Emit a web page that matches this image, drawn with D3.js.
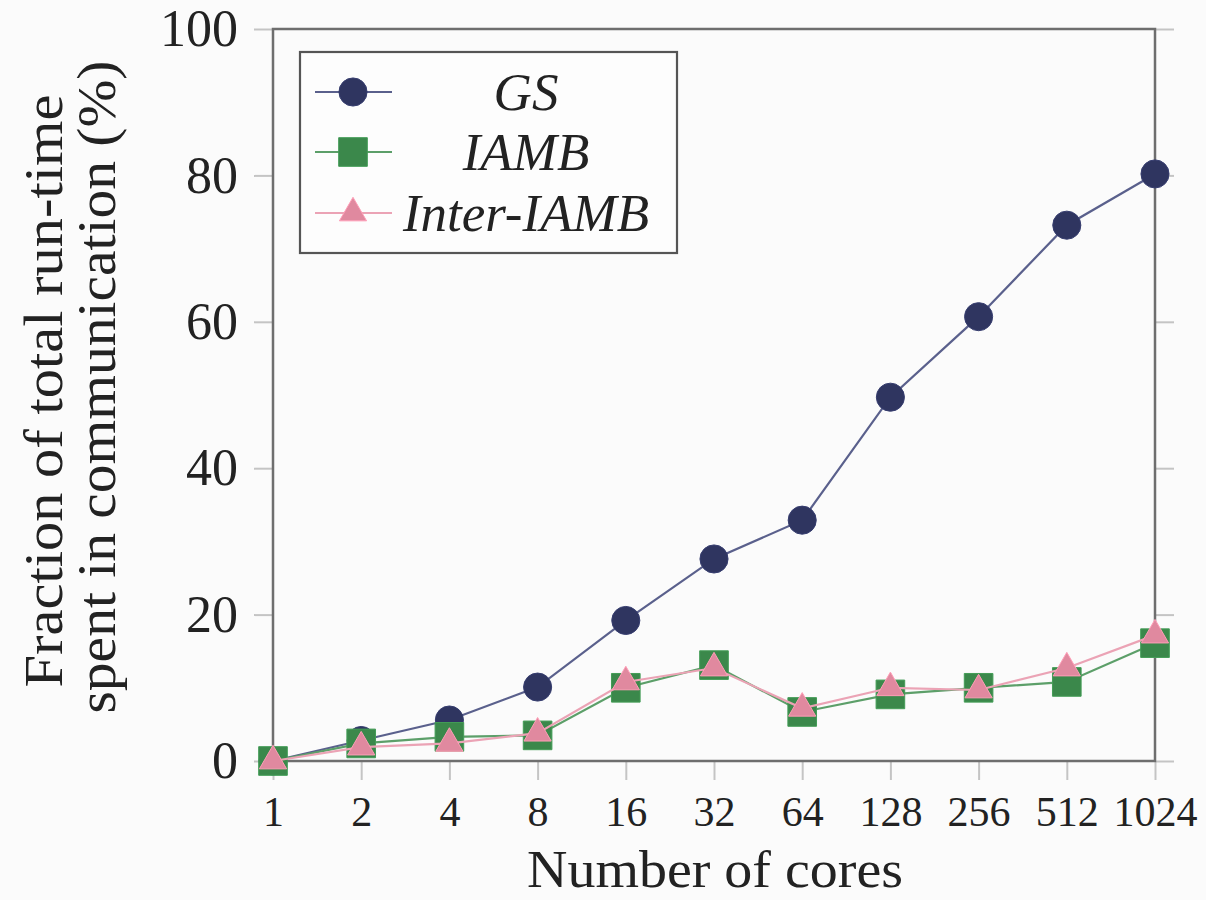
<!DOCTYPE html>
<html>
<head>
<meta charset="utf-8">
<script src="https://cdn.jsdelivr.net/npm/d3@7"></script>
<style>
  html, body { margin: 0; padding: 0; background: #fbfbfb; }
  svg { display: block; }
</style>
</head>
<body>
<svg id="chart" width="1206" height="900"></svg>
<script>
// ---- data ----
const cores = ["1", "2", "4", "8", "16", "32", "64", "128", "256", "512", "1024"];
const gsValues = [0, 2.8, 5.6, 10.1, 19.2, 27.6, 32.9, 49.7, 60.7, 73.2, 80.2];
const iambValues = [0, 2.4, 3.3, 3.5, 10.0, 13.1, 6.7, 9.1, 10.0, 10.8, 16.1];
const interIambValues = [0, 1.9, 2.4, 3.8, 10.8, 12.7, 7.2, 10.0, 9.7, 12.7, 17.2];
const yTicks = [0, 20, 40, 60, 80, 100];
const seriesNames = ["GS", "IAMB", "Inter-IAMB"];
const xTitle = "Number of cores";
const yTitleLines = ["Fraction of total run-time", "spent in communication (%)"];

(function () {
const series = [
  { name: seriesNames[0], values: gsValues, fill: "#2f3560", line: "#5a608c", symbol: d3.symbolCircle, size: 620 },
  { name: seriesNames[1], values: iambValues, fill: "#3b884b", line: "#5c9f69", symbol: d3.symbolSquare, size: 820 },
  { name: seriesNames[2], values: interIambValues, fill: "#e0899f", line: "#eba3b5", symbol: d3.symbolTriangle, size: 320 }
];

const svg = d3.select("#chart");
const mLeft = 273, mRight = 1155, mTop = 29, mBottom = 761;
const serif = "'Liberation Serif', 'Times New Roman', serif";

const x = d3.scalePoint().domain(cores).range([mLeft, mRight]);
const y = d3.scaleLinear().domain([0, 100]).range([mBottom, mTop]);

const tickColor = "#c4c4c4";
const frameColor = "#6e6e6e";

// left axis
const gL = svg.append("g").attr("transform", `translate(${mLeft},0)`)
  .call(d3.axisLeft(y).tickValues(yTicks).tickSize(19).tickPadding(16));
gL.select(".domain").remove();
gL.selectAll(".tick line").attr("stroke", tickColor).attr("stroke-width", 2);
gL.selectAll(".tick text").attr("font-family", serif).attr("font-size", 52).attr("fill", "#222");

// right axis ticks
const gR = svg.append("g").attr("transform", `translate(${mRight},0)`)
  .call(d3.axisRight(y).tickValues(yTicks).tickSize(19).tickFormat(""));
gR.select(".domain").remove();
gR.selectAll(".tick line").attr("stroke", tickColor).attr("stroke-width", 2);

// bottom axis
const gB = svg.append("g").attr("transform", `translate(0,${mBottom})`)
  .call(d3.axisBottom(x).tickSize(19).tickPadding(16));
gB.select(".domain").remove();
gB.selectAll(".tick line").attr("stroke", tickColor).attr("stroke-width", 2);
gB.selectAll(".tick text").attr("font-family", serif).attr("font-size", 42).attr("fill", "#222");

// frame
svg.append("rect")
  .attr("x", mLeft).attr("y", mTop)
  .attr("width", mRight - mLeft).attr("height", mBottom - mTop)
  .attr("fill", "none").attr("stroke", frameColor).attr("stroke-width", 2.5);

// series
const lineGen = d3.line().x((d, i) => x(cores[i])).y(d => y(d));
series.forEach(s => {
  const g = svg.append("g");
  g.append("path").datum(s.values)
    .attr("d", lineGen).attr("fill", "none")
    .attr("stroke", s.line).attr("stroke-width", 2.2);
  g.selectAll("path.m").data(s.values).join("path")
    .attr("class", "m")
    .attr("d", d3.symbol().type(s.symbol).size(s.size))
    .attr("transform", (d, i) => `translate(${x(cores[i])},${y(d)})`)
    .attr("fill", s.fill)
    .attr("stroke", d3.color(s.fill).brighter(0.4))
    .attr("stroke-width", 1);
});

// legend
const lg = svg.append("g");
lg.append("rect").attr("x", 300).attr("y", 52).attr("width", 377).attr("height", 201)
  .attr("fill", "#fdfdfd").attr("stroke", "#555").attr("stroke-width", 2.2);
const rowY = [92, 152, 213];
series.forEach((s, i) => {
  const yy = rowY[i];
  lg.append("line").attr("x1", 315).attr("x2", 392).attr("y1", yy).attr("y2", yy)
    .attr("stroke", s.line).attr("stroke-width", 2.2);
  lg.append("path")
    .attr("d", d3.symbol().type(s.symbol).size(s.size))
    .attr("transform", `translate(353,${yy})`)
    .attr("fill", s.fill)
    .attr("stroke", d3.color(s.fill).brighter(0.4)).attr("stroke-width", 1);
  lg.append("text").attr("x", 526).attr("y", yy + 18)
    .attr("text-anchor", "middle")
    .attr("font-family", serif).attr("font-style", "italic").attr("font-size", 53)
    .attr("fill", "#222").text(s.name);
});

// axis titles
svg.append("text").attr("x", 715).attr("y", 887)
  .attr("text-anchor", "middle")
  .attr("font-family", serif).attr("font-size", 52).attr("fill", "#222")
  .attr("textLength", 376).attr("lengthAdjust", "spacingAndGlyphs")
  .text(xTitle);

const yLens = [593, 653];
const yBase = [62, 115];
const yCenter = [391, 387];
yTitleLines.forEach((t, i) => {
  svg.append("text")
    .attr("transform", `translate(${yBase[i]},${yCenter[i]}) rotate(-90)`)
    .attr("text-anchor", "middle")
    .attr("font-family", serif).attr("font-size", 54).attr("fill", "#222")
    .attr("textLength", yLens[i]).attr("lengthAdjust", "spacingAndGlyphs")
    .text(t);
});
})();
</script>
</body>
</html>
